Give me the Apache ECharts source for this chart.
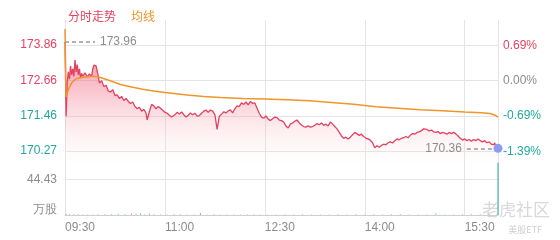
<!DOCTYPE html>
<html><head><meta charset="utf-8">
<script src="https://cdn.jsdelivr.net/npm/echarts@6/dist/echarts.min.js"></script>
<style>html,body{margin:0;padding:0;background:#fff}#c{width:560px;height:240px}</style>
</head><body><div id="c"></div>
<script>
// ---- data ----
const timeTicks = [0, 90, 180, 270, 360];
const timeLabels = ['09:30', '11:00', '12:30', '14:00', '15:30'];
const prevClose = 172.66;
const priceTicks = [170.27, 171.46, 172.66, 173.86];
const pctTicks = [-1.39, -0.69, 0, 0.69];
const volTicks = [0, 44.43];
const highPrice = 173.96;
const lowPrice = 170.36;

const priceMinutes = [0,1,2,3,4,5,6,7,8,9,10,11,12,13,14,15,16,18,20,22,24,25,26,28,29,30,31,33,35,37,39,41,43,45,47,49,51,53,55,57,59,61,63,65,67,69,71,73,74,76,78,80,82,84,86,88,90,92,94,96,97,99,101,103,105,107,109,111,113,115,117,119,121,123,125,127,129,131,133,135,137,139,141,143,145,147,149,151,153,155,157,159,161,163,165,167,169,171,173,175,177,179,181,183,185,187,189,191,193,195,197,199,201,203,205,207,209,211,213,215,217,219,221,223,225,227,229,231,233,235,237,239,241,243,245,247,249,251,253,255,257,259,261,263,265,267,269,271,273,275,277,279,281,283,285,287,289,291,293,295,297,299,301,303,305,307,309,311,313,315,317,319,321,323,324,326,328,330,332,334,336,338,340,342,344,346,348,350,352,354,356,358,360,362,364,366,368,370,372,374,376,378,380,382,384,386,387,388,390];
const priceValues = [173.96,171.45,172.60,172.95,172.70,173.15,172.85,173.05,172.80,173.35,172.95,173.20,172.85,173.05,172.75,172.90,172.80,172.92,172.78,172.88,172.80,173.05,173.18,173.15,173.10,172.80,172.57,172.65,172.45,172.50,172.30,172.27,172.35,172.15,172.17,172.05,172.12,171.98,172.05,171.95,171.88,171.93,171.78,171.70,171.75,171.62,171.68,171.55,171.32,171.60,171.85,171.80,171.70,171.78,171.72,171.65,171.58,171.55,171.48,171.42,171.39,171.50,171.58,171.52,171.59,171.50,171.42,171.48,171.56,171.50,171.55,171.45,171.47,171.55,171.62,171.66,171.58,171.66,171.62,171.50,171.00,171.45,171.52,171.60,171.56,171.63,171.66,171.56,171.70,171.80,171.78,171.90,171.85,171.93,171.83,171.95,171.88,171.90,171.72,171.55,171.42,171.38,171.46,171.35,171.30,171.36,171.42,171.40,171.32,171.30,171.25,171.12,171.05,171.18,171.22,171.28,171.32,171.22,171.15,171.10,171.08,171.12,171.08,171.10,171.14,171.20,171.16,171.22,171.14,171.18,171.12,171.25,171.18,171.10,171.02,170.90,170.78,170.70,170.74,170.68,170.74,170.82,170.90,170.85,170.80,170.84,170.76,170.71,170.68,170.64,170.55,170.38,170.45,170.40,170.46,170.50,170.48,170.55,170.58,170.54,170.62,170.68,170.65,170.70,170.72,170.76,170.72,170.80,170.86,170.84,170.90,170.92,170.96,171.02,171.08,171.00,170.95,170.98,170.92,170.90,170.93,170.86,170.90,170.88,170.84,170.90,170.86,170.90,170.85,170.78,170.70,170.64,170.68,170.62,170.66,170.60,170.66,170.62,170.68,170.62,170.58,170.62,170.55,170.58,170.50,170.48,170.55,170.42,170.36];

const avgMinutes = [0,1,3,6,10,18,26,32,40,50,60,70,80,90,100,110,125,140,160,180,200,220,240,260,280,300,320,340,360,375,383,387,390];
const avgValues = [174.40,172.10,172.35,172.58,172.72,172.78,172.80,172.76,172.66,172.52,172.44,172.36,172.30,172.25,172.21,172.17,172.12,172.08,172.05,172.03,172.01,171.97,171.91,171.85,171.77,171.72,171.67,171.63,171.59,171.57,171.54,171.49,171.42];

const volMinutes = [1,4,8,12,16,20,25,30,36,42,48,54,60,64,68,72,76,80,86,92,98,104,110,116,122,128,134,140,146,152,158,164,170,176,182,190,198,206,214,222,230,238,246,254,262,270,278,286,294,302,310,318,326,334,342,350,358,366,374,382,390];
const volValues = [1.6,1.2,0.9,0.8,0.6,0.7,0.5,0.9,1.1,1.4,1.8,1.2,2.2,1.5,2.6,1.0,1.9,1.3,0.7,0.6,0.8,0.9,0.6,0.7,2.4,0.6,0.8,0.5,0.7,0.6,0.5,0.8,0.6,0.7,0.5,0.6,0.7,0.5,0.8,0.6,0.5,0.7,1.0,0.6,0.8,0.7,1.1,0.6,0.8,1.2,0.7,0.6,0.5,2.3,0.6,0.7,0.9,0.8,1.1,1.6,65.8];

// ---- chart ----
const RED = '#e5415f', TEAL = '#20a99b', GRAY = '#8c8c8c', ORANGE = '#f0952a';
const priceMax = 174.707, priceMin = 169.898;
const pctMax = (priceMax / prevClose - 1) * 100, pctMin = (priceMin / prevClose - 1) * 100;
const zip = (a, b) => a.map((v, i) => [v, b[i]]);
const fontFamily = '"Liberation Sans", Arial, sans-serif';

const chart = echarts.init(document.getElementById('c'), null, {renderer: 'canvas'});
const splitX = {show: true, lineStyle: {color: '#e4e4e4', width: 1}};
chart.setOption({
  animation: false,
  textStyle: {fontFamily},
  title: {
    text: '{a|分时走势}   {b|均线}', left: 63, top: 2,
    textStyle: {fontWeight: 'normal', rich: {
      a: {color: RED, fontSize: 12, fontWeight: 'normal', fontFamily: '"Noto Sans CJK SC"'},
      b: {color: ORANGE, fontSize: 12, fontWeight: 'normal', fontFamily: '"Noto Sans CJK SC"'}}}
  },
  grid: [
    {left: 65, right: 62, top: 20, height: 142},
    {left: 65, right: 62, top: 162, height: 53}
  ],
  xAxis: [
    {type: 'value', gridIndex: 0, min: 0, max: 390,
     axisLine: {show: false}, axisTick: {show: false, customValues: timeTicks.concat([390])},
     axisLabel: {show: false}, splitLine: splitX},
    {type: 'value', gridIndex: 1, min: 0, max: 390,
     axisLine: {show: true, lineStyle: {color: '#cfcfcf'}},
     axisTick: {show: false, customValues: timeTicks.concat([390])},
     axisLabel: {show: true, customValues: timeTicks, color: GRAY, fontSize: 12, align: 'left', margin: 7,
       formatter: v => timeLabels[timeTicks.indexOf(v)] || ''},
     splitLine: splitX}
  ],
  yAxis: [
    {type: 'value', gridIndex: 0, min: priceMin, max: priceMax,
     axisLine: {show: false}, axisTick: {show: false, customValues: priceTicks},
     axisLabel: {customValues: priceTicks, fontSize: 12, margin: 8,
       formatter: v => v.toFixed(2),
       color: v => v < prevClose - 0.001 ? TEAL : RED},
     splitLine: {show: true, lineStyle: {color: '#e4e4e4'}}},
    {type: 'value', gridIndex: 0, position: 'right', min: pctMin, max: pctMax,
     axisLine: {show: false}, axisTick: {show: false, customValues: pctTicks},
     axisLabel: {customValues: pctTicks, fontSize: 12, margin: 5,
       formatter: v => v.toFixed(2) + '%',
       color: v => v > 0 ? RED : (v < 0 ? TEAL : GRAY)},
     splitLine: {show: false}},
    {type: 'value', gridIndex: 1, min: 0, max: 66.645,
     axisLine: {show: false}, axisTick: {show: false, customValues: volTicks},
     axisLabel: {customValues: volTicks, fontSize: 12, margin: 8, color: GRAY,
       formatter: v => v === 0 ? '{u|万股}' : v.toFixed(2),
       rich: {u: {fontSize: 12, color: GRAY, padding: [0, 0, 10, 0]}}},
     splitLine: {show: true, lineStyle: {color: '#e4e4e4'}}}
  ],
  series: [
    {type: 'line', xAxisIndex: 0, yAxisIndex: 0, data: zip(priceMinutes, priceValues),
     showSymbol: false, lineStyle: {color: RED, width: 1.3}, z: 3,
     areaStyle: {color: new echarts.graphic.LinearGradient(0, 0, 0, 1, [
       {offset: 0, color: 'rgba(236,55,90,0.85)'}, {offset: 0.45, color: 'rgba(242,110,132,0.5)'}, {offset: 1, color: 'rgba(255,235,238,0.12)'}])},
     markLine: {symbol: 'none', silent: true,
       lineStyle: {color: '#999', type: [4, 3], width: 1.5},
       data: [
         [{coord: [0, highPrice], label: {show: true, position: 'end', formatter: highPrice.toFixed(2), distance: 5, color: GRAY, fontSize: 12}}, {coord: [27, highPrice]}],
         [{coord: [362, lowPrice], label: {show: true, position: 'start', formatter: lowPrice.toFixed(2), distance: 5, color: GRAY, fontSize: 12}}, {coord: [390, lowPrice]}]
       ]},
     markPoint: {symbol: 'circle', symbolSize: 9, silent: true,
       itemStyle: {color: '#8e9cf0'}, label: {show: false},
       data: [{coord: [390, lowPrice]}]}
    },
    {type: 'line', xAxisIndex: 0, yAxisIndex: 0, data: zip(avgMinutes, avgValues),
     showSymbol: false, lineStyle: {color: ORANGE, width: 1.5}, z: 4},
    {type: 'bar', xAxisIndex: 1, yAxisIndex: 2, data: zip(volMinutes, volValues),
     barWidth: 1, itemStyle: {color: p => p.value[1] > 30 ? TEAL : (p.dataIndex % 4 === 0 ? '#f08a9c' : '#8fc9c2')}}
  ],
  graphic: [
    {type: 'text', right: 10, bottom: 22, style: {text: '老虎社区', fill: '#d8d8d8', fontSize: 17, fontFamily: '"Noto Sans CJK SC"'}},
    {type: 'text', right: 18, bottom: 6, style: {text: '美股ETF', fill: '#cfcfcf', fontSize: 9, fontFamily: '"Noto Sans CJK SC"'}}
  ]
});
</script></body></html>
